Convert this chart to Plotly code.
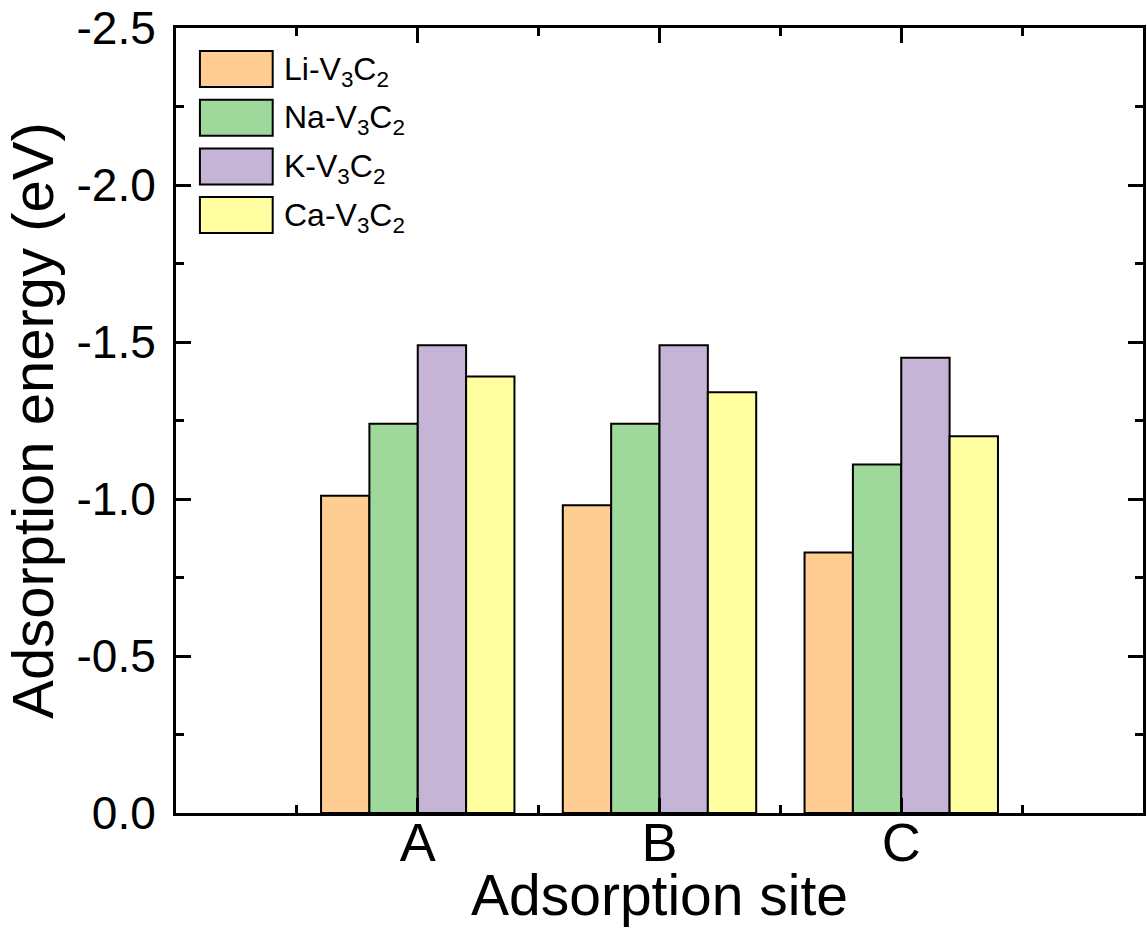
import plotly.graph_objects as go

sites = ["A", "B", "C"]
site_pos = [1, 2, 3]
series_names = ["Li-V<sub>3</sub>C<sub>2</sub>", "Na-V<sub>3</sub>C<sub>2</sub>",
                "K-V<sub>3</sub>C<sub>2</sub>", "Ca-V<sub>3</sub>C<sub>2</sub>"]
li_vals = [-1.01, -0.98, -0.83]
na_vals = [-1.24, -1.24, -1.11]
k_vals = [-1.49, -1.49, -1.45]
ca_vals = [-1.39, -1.34, -1.20]
colors = ["#FFCC91", "#9ED89B", "#C6B4D7", "#FFFFA2"]
y_tick_vals = [0.0, -0.5, -1.0, -1.5, -2.0, -2.5]
y_tick_text = ["0.0", "-0.5", "-1.0", "-1.5", "-2.0", "-2.5"]

FONT = "Liberation Sans, Arial, sans-serif"
W, H = 1147, 928
L, R, T, B = 176, 1, 28, 115

fig = go.Figure()
for name, vals, col in zip(series_names, [li_vals, na_vals, k_vals, ca_vals], colors):
    fig.add_trace(go.Bar(x=site_pos, y=vals, name=name, marker=dict(color=col, line=dict(color="black", width=2)),
                         showlegend=False))

# custom legend (large boxes like reference)
pw, ph = W - L - R, H - T - B
def px2x(p):
    return (p - L) / pw
def py2y(p):
    return (H - B - p) / ph

box_top0 = 51
step = 48.7
for i, (name, col) in enumerate(zip(series_names, colors)):
    y0 = box_top0 + i * step
    y1 = y0 + 36
    fig.add_shape(type="rect", xref="paper", yref="paper",
                  x0=px2x(200), x1=px2x(273), y0=py2y(y1), y1=py2y(y0),
                  fillcolor=col, line=dict(color="black", width=2))
    fig.add_annotation(xref="paper", yref="paper", x=px2x(282), y=py2y((y0 + y1) / 2 + 2),
                       text=name, showarrow=False, xanchor="left", yanchor="middle",
                       font=dict(family=FONT, size=32, color="black"))

# x-axis title placed as annotation
fig.add_annotation(xref="paper", yref="paper", x=0.5, y=py2y(895),
                   text="Adsorption site", showarrow=False, xanchor="center", yanchor="middle",
                   font=dict(family=FONT, size=57, color="black"))

axis_common = dict(showline=True, linecolor="black", linewidth=3, mirror="allticks",
                   ticks="inside", ticklen=15, tickwidth=3, tickcolor="black",
                   showgrid=False, zeroline=False)

fig.update_layout(
    width=W, height=H,
    margin=dict(l=L, r=R, t=T, b=B),
    paper_bgcolor="white", plot_bgcolor="white",
    barmode="group", bargap=0.2, bargroupgap=0,
    font=dict(family=FONT, color="black"),
    xaxis=dict(range=[0, 4], tickvals=site_pos, ticktext=sites,
               tickfont=dict(size=54, family=FONT), ticklabelstandoff=-20,
               minor=dict(tick0=0.5, dtick=1, ticks="inside", ticklen=8, tickwidth=3, tickcolor="black"),
               **axis_common),
    yaxis=dict(range=[0, -2.5], tickvals=y_tick_vals, ticktext=y_tick_text,
               tickfont=dict(size=46, family=FONT), ticklabelstandoff=8,
               minor=dict(tick0=0.25, dtick=0.5, ticks="inside", ticklen=8, tickwidth=3, tickcolor="black"),
               title=dict(text="Adsorption energy (eV)", font=dict(size=58, family=FONT), standoff=8),
               **axis_common),
)

fig.write_html("out.html")
